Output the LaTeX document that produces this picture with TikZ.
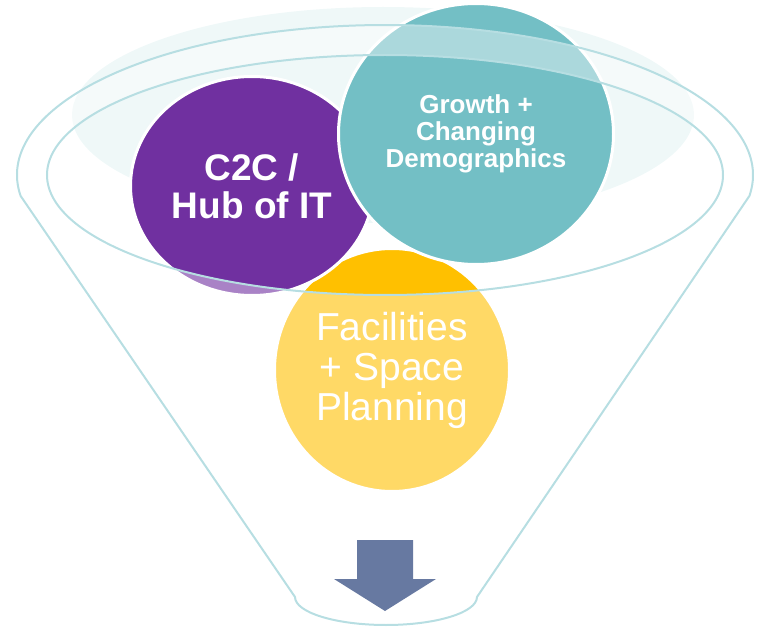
\documentclass[tikz,border=0pt]{standalone}
\usepackage{fontspec}
\setmainfont{Liberation Sans}
\usetikzlibrary{shapes.geometric}
\definecolor{funnelline}{HTML}{B7DEE2}
\definecolor{funnelfill}{HTML}{EFF8F8}
\definecolor{hubpurple}{HTML}{7030A0}
\definecolor{growthteal}{HTML}{73BFC5}
\definecolor{spaceyellow}{HTML}{FFC000}
\definecolor{arrowblue}{HTML}{6779A1}

\begin{document}
\begin{tikzpicture}[x=0.75pt, y=0.75pt,
  bubble/.style={ellipse, draw=white, line width=2.25pt, inner sep=0pt, text=white, align=center},
  rim/.style={draw=funnelline, line width=1.5pt}]
\useasboundingbox (0,0) rectangle (761,626);
\fill[funnelfill] (383,511) ellipse [x radius=311, y radius=108];
\path (392,256) node[bubble, fill=spaceyellow, minimum width=176.25pt, minimum height=182.25pt,
  font=\fontsize{29.25}{30}\selectfont] (space) {Facilities\\+ Space\\Planning};
\path (252,440) node[bubble, fill=hubpurple, minimum width=182.25pt, minimum height=164.25pt,
  font=\bfseries\fontsize{27.75}{28.5}\selectfont] (hub) {C2C /\\Hub of IT};
\path (476,492) node[bubble, fill=growthteal, minimum width=206.25pt, minimum height=195.75pt,
  font=\bfseries\fontsize{19.5}{20.25}\selectfont] (growth) {Growth +\\Changing\\Demographics};
\fill[white, fill opacity=0.4, even odd rule]
  (20.6,430.1) arc[start angle=188, end angle=-8, x radius=368, y radius=150]
  -- (477,29) arc[start angle=0, end angle=-180, x radius=91, y radius=28] -- cycle
  (385,451) ellipse [x radius=338, y radius=120];
\draw[rim] (20.6,430.1) arc[start angle=188, end angle=-8, x radius=368, y radius=150]
  -- (477,29) arc[start angle=0, end angle=-180, x radius=91, y radius=28] -- cycle;
\draw[rim] (385,451) ellipse [x radius=338, y radius=120];
\fill[arrowblue] (357,86) -- (413,86) -- (413,47) -- (436,47) -- (385,15) -- (334,47) -- (357,47) -- cycle;
\end{tikzpicture}
\end{document}
